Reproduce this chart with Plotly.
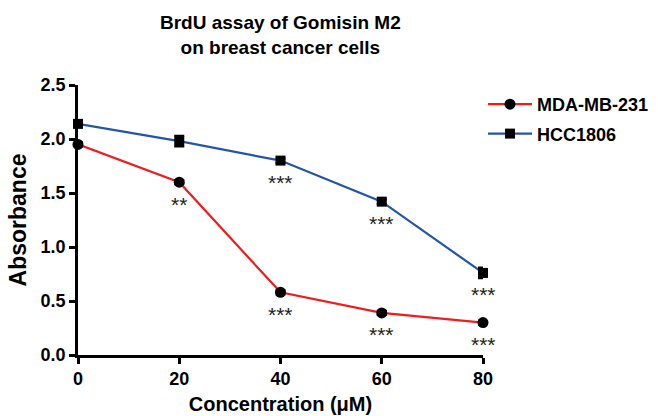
import plotly.graph_objects as go

conc = [0, 20, 40, 60, 80]
mda = [1.95, 1.60, 0.58, 0.39, 0.30]
mda_err = [0.02, 0.02, 0.02, 0.02, 0.02]
hcc = [2.14, 1.98, 1.80, 1.42, 0.76]
hcc_err = [0.02, 0.05, 0.02, 0.02, 0.05]
mda_stars = ["", "**", "***", "***", "***"]
hcc_stars = ["", "", "***", "***", "***"]

FONT = "Liberation Sans, Arial, sans-serif"

fig = go.Figure()
fig.add_trace(go.Scatter(
    x=conc, y=mda, name="MDA-MB-231", mode="lines+markers", legendgroup="a",
    line=dict(color="#ee1c1c", width=2.2),
    marker=dict(symbol="circle", size=11, color="black"),
    error_y=dict(type="data", array=mda_err, color="black", thickness=2, width=5),
    cliponaxis=False,
))
fig.add_trace(go.Scatter(
    x=conc, y=hcc, name="HCC1806", mode="lines+markers", legendgroup="b",
    line=dict(color="#2255aa", width=2.2),
    marker=dict(symbol="square", size=10, color="black"),
    error_y=dict(type="data", array=hcc_err, color="black", thickness=2, width=5),
    cliponaxis=False,
))

for x, y, s in zip(conc, mda, mda_stars):
    if s:
        fig.add_annotation(x=x, y=y, text=s, showarrow=False, yshift=-22,
                           font=dict(family=FONT, size=21, color="#222"))
for x, y, s in zip(conc, hcc, hcc_stars):
    if s:
        fig.add_annotation(x=x, y=y, text=s, showarrow=False, yshift=-22,
                           font=dict(family=FONT, size=21, color="#222"))

fig.add_annotation(xref="paper", yref="paper", x=0.5, y=1.0,
                   yanchor="top", yshift=75,
                   text="BrdU assay of Gomisin M2<br>on breast cancer cells",
                   showarrow=False, font=dict(family=FONT, size=19, color="black", weight="bold"),
                   align="center")

fig.update_layout(
    width=658, height=416,
    margin=dict(l=78, r=168, t=85, b=61),
    paper_bgcolor="white", plot_bgcolor="white",
    showlegend=True,
    legend=dict(xref="container", yref="container", x=483 / 658, y=1 - 86 / 416,
                xanchor="left", yanchor="top",
                font=dict(family=FONT, size=18, color="black", weight="bold"),
                tracegroupgap=3, itemwidth=44),
    font=dict(family=FONT, color="black"),
)
fig.update_xaxes(
    range=[0, 80], tickvals=[0, 20, 40, 60, 80], automargin=False,
    showline=True, linecolor="black", linewidth=2.5,
    ticks="outside", ticklen=6, tickwidth=2.5, tickcolor="black",
    showgrid=False, zeroline=False,
    tickfont=dict(family=FONT, size=18, color="black", weight="bold"),
    title=dict(text="Concentration (μM)", font=dict(family=FONT, size=20, weight="bold"), standoff=9),
)
fig.update_yaxes(
    range=[0, 2.5], tickvals=[0, 0.5, 1.0, 1.5, 2.0, 2.5], tickformat=".1f", automargin=False,
    showline=True, linecolor="black", linewidth=2.5,
    ticks="outside", ticklen=6, tickwidth=2.5, tickcolor="black",
    showgrid=False, zeroline=False,
    tickfont=dict(family=FONT, size=18, color="black", weight="bold"),
    title=dict(text="Absorbance", font=dict(family=FONT, size=23, weight="bold"), standoff=8),
)

fig.write_html("out.html", config={"displayModeBar": False},
               post_script="document.body.style.margin='0';")
